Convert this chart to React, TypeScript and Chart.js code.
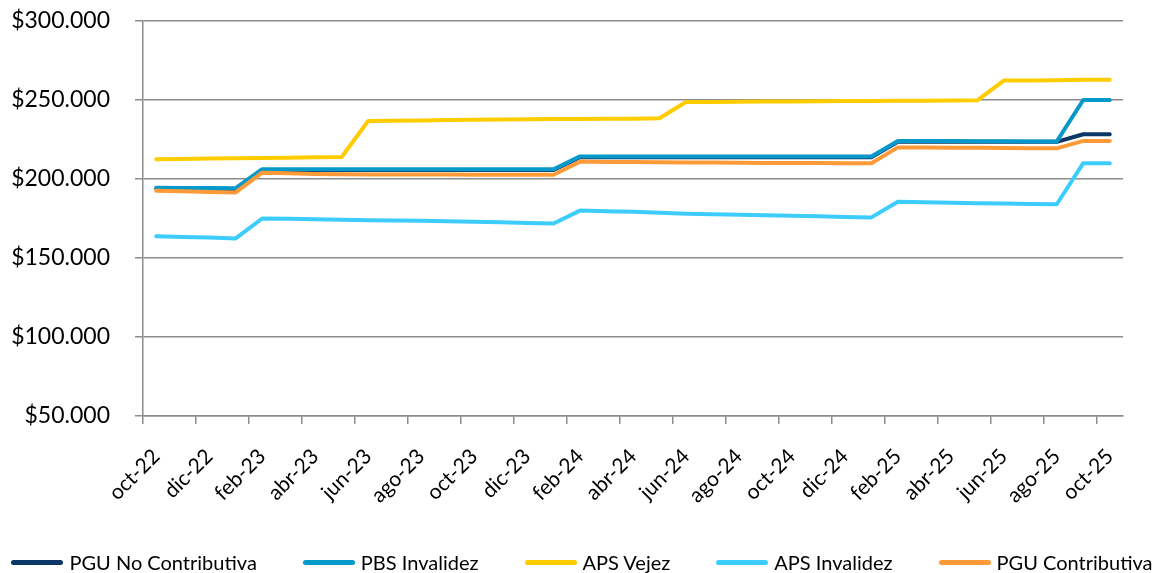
import React, { useEffect, useRef } from "react";
import { Chart, registerables } from "chart.js";

Chart.register(...registerables);

const MONTHS: string[] = [
  "oct-22", "nov-22", "dic-22", "ene-23", "feb-23", "mar-23", "abr-23", "may-23", "jun-23", "jul-23", "ago-23", "sep-23",
  "oct-23", "nov-23", "dic-23", "ene-24", "feb-24", "mar-24", "abr-24", "may-24", "jun-24", "jul-24", "ago-24", "sep-24",
  "oct-24", "nov-24", "dic-24", "ene-25", "feb-25", "mar-25", "abr-25", "may-25", "jun-25", "jul-25", "ago-25", "sep-25",
  "oct-25",
];

const PGU_NO_CONTRIBUTIVA: number[] = [
  193900, 193900, 193800, 193700,
  205700, 205700, 205700, 205700, 205700, 205700, 205700, 205700, 205700, 205700, 205700, 205700,
  213800, 213800, 213800, 213800, 213800, 213800, 213800, 213800, 213800, 213800, 213800, 213800,
  223500, 223500, 223500, 223500, 223500, 223500, 223500,
  228300, 228300,
];

const PBS_INVALIDEZ: number[] = [
  194400, 194300, 194300, 194200,
  206200, 206200, 206200, 206200, 206200, 206200, 206200, 206200, 206200, 206200, 206200, 206200,
  214300, 214300, 214300, 214300, 214300, 214300, 214300, 214300, 214300, 214300, 214300, 214300,
  224000, 224000, 224000, 223900, 223900, 223800, 223800,
  250000, 250000,
];

const APS_VEJEZ: number[] = [
  212500, 212700, 212900, 213100, 213300, 213500, 213700, 213900,
  236700, 236900, 237100, 237300, 237500, 237700, 237800, 237900, 238000, 238100, 238200, 238400,
  248700, 248800, 248900, 249000, 249100, 249200, 249300, 249400, 249500, 249600, 249700, 249800,
  262300, 262400, 262500, 262800, 262800,
];

const APS_INVALIDEZ: number[] = [
  163700, 163300, 162900, 162400,
  175000, 174800, 174500, 174200, 173900, 173700, 173500, 173200, 172900, 172600, 172200, 171800,
  180000, 179600, 179200, 178600, 178000, 177700, 177300, 177000, 176700, 176400, 176000, 175700,
  185600, 185300, 185000, 184700, 184500, 184200, 184000,
  210000, 210000,
];

const PGU_CONTRIBUTIVA: number[] = [
  192500, 192200, 191800, 191500,
  204000, 203600, 203200, 203000, 202900, 202900, 202800, 202800, 202700, 202700, 202700, 202700,
  211000, 210800, 210700, 210600, 210500, 210400, 210300, 210200, 210100, 210100, 210000, 210000,
  220000, 219900, 219800, 219700, 219600, 219500, 219400,
  224100, 224100,
];

const SERIES_NAMES: string[] = [
  "PGU No Contributiva",
  "PBS Invalidez",
  "APS Vejez",
  "APS Invalidez",
  "PGU Contributiva",
];

const SERIES_COLORS: string[] = ["#0b3767", "#0799c9", "#ffcc00", "#3dcdfd", "#ff9a38"];

const Y_TICKS: number[] = [50000, 100000, 150000, 200000, 250000, 300000];

const FONT = "Lato, 'Open Sans', sans-serif";
const GRID = "#8c8c8c";

function fmt(v: number): string {
  return "$" + String(v).replace(/\B(?=(\d{3})+(?!\d))/g, ".");
}

export default function App() {
  const ref = useRef<HTMLCanvasElement | null>(null);

  useEffect(() => {
    document.body.style.margin = "0";
    const canvas = ref.current;
    if (!canvas) return;
    const values = [PGU_NO_CONTRIBUTIVA, PBS_INVALIDEZ, APS_VEJEZ, APS_INVALIDEZ, PGU_CONTRIBUTIVA];
    const datasets = SERIES_NAMES.map((name, i) => ({
      label: name,
      data: values[i],
      borderColor: SERIES_COLORS[i],
      backgroundColor: SERIES_COLORS[i],
      borderWidth: 4,
      pointRadius: 0,
      tension: 0,
      borderCapStyle: "round" as const,
      borderJoinStyle: "round" as const,
      order: SERIES_NAMES.length - i,
      yAxisID: "y",
    }));

    const chart = new Chart(canvas, {
      type: "line",
      data: { labels: MONTHS, datasets },
      options: {
        animation: false,
        responsive: false,
        maintainAspectRatio: false,
        layout: { padding: { left: 0, right: 0, top: 21, bottom: 57 } },
        plugins: {
          tooltip: { enabled: false },
          legend: { display: false },
        },
        scales: {
          x: {
            type: "category",
            offset: true,
            afterFit: (s: any) => {
              s.height = 100;
            },
            grid: {
              offset: true,
              drawOnChartArea: false,
              drawTicks: true,
              tickLength: 8,
              lineWidth: 1.5,
              color: (ctx: any) => (ctx.index % 2 === 0 ? GRID : "rgba(0,0,0,0)"),
            },
            border: { display: true, color: GRID, width: 1.5 },
            ticks: {
              autoSkip: false,
              maxRotation: 45,
              minRotation: 45,
              padding: 20,
              color: "#000",
              font: { family: FONT, size: 21 },
              callback: (_v: any, i: number) => (i % 2 === 0 ? MONTHS[i] : ""),
            },
          },
          y: {
            min: Y_TICKS[0],
            max: Y_TICKS[Y_TICKS.length - 1],
            afterBuildTicks: (s: any) => {
              s.ticks = Y_TICKS.map((v) => ({ value: v }));
            },
            afterFit: (s: any) => {
              s.width = 143;
              s.paddingTop = 12;
              s.paddingBottom = 12;
            },
            grid: {
              color: GRID,
              lineWidth: 1.5,
              drawTicks: true,
              tickLength: 8,
            },
            border: { display: true, color: GRID, width: 1.5 },
            ticks: {
              padding: 25,
              color: "#000",
              font: { family: FONT, size: 23 },
              callback: (v: any) => fmt(Number(v)),
            },
          },
          yRight: {
            position: "right",
            display: true,
            afterFit: (s: any) => {
              s.width = 41;
              s.paddingTop = 0;
              s.paddingBottom = 0;
            },
            grid: { display: false, drawTicks: false },
            border: { display: false },
            ticks: { display: false },
          },
        },
      },
    });
    return () => chart.destroy();
  }, []);

  return (
    <div style={{ position: "relative", width: 1164, height: 573 }}>
      <canvas ref={ref} width={1164} height={573} style={{ display: "block" }} />
      <div
        style={{
          position: "absolute",
          left: 0,
          top: 552,
          width: 1164,
          height: 20,
          display: "flex",
          justifyContent: "center",
          alignItems: "center",
          gap: 46,
          fontFamily: FONT,
          fontSize: 20,
          lineHeight: "20px",
          color: "#000",
          whiteSpace: "nowrap",
        }}
      >
        {SERIES_NAMES.map((name, i) => (
          <div key={name} style={{ display: "flex", alignItems: "center" }}>
            <span
              style={{
                display: "inline-block",
                width: 52,
                height: 5,
                borderRadius: 3,
                background: SERIES_COLORS[i],
                marginRight: 6,
              }}
            />
            <span>{name}</span>
          </div>
        ))}
      </div>
    </div>
  );
}
